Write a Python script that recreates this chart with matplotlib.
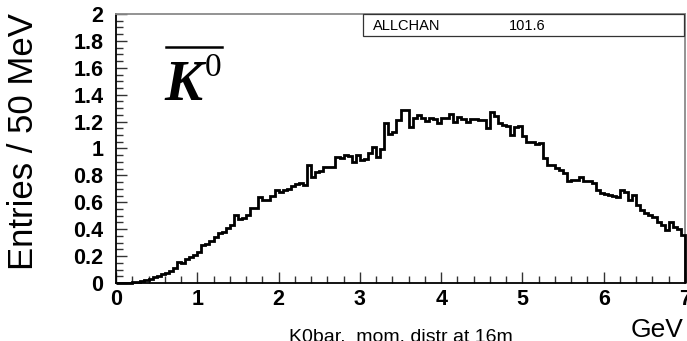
import numpy as np
import matplotlib
matplotlib.use('Agg')
from matplotlib import pyplot as plt
from matplotlib.ticker import MultipleLocator
from matplotlib.patches import Rectangle
from matplotlib.lines import Line2D

plt.rcParams['font.family'] = ['Liberation Sans', 'DejaVu Sans']

# K0bar momentum distribution at 16m, 50 MeV bins from 0 to 7 GeV
bin_width = 0.05
entries = [
    0.0, 0.0, 0.0, 0.002, 0.004, 0.007, 0.012, 0.02, 0.03, 0.042,
    0.05, 0.065, 0.075, 0.09, 0.11, 0.158, 0.146, 0.18, 0.19, 0.208,
    0.233, 0.28, 0.29, 0.31, 0.34, 0.37, 0.38, 0.41, 0.43, 0.505,
    0.475, 0.48, 0.505, 0.555, 0.56, 0.64, 0.615, 0.62, 0.645, 0.695,
    0.68, 0.69, 0.70, 0.72, 0.735, 0.74, 0.73, 0.875, 0.79, 0.825,
    0.83, 0.86, 0.86, 0.86, 0.935, 0.93, 0.95, 0.945, 0.90, 0.95,
    0.915, 0.92, 0.965, 1.01, 0.94, 1.0, 1.19, 1.105, 1.125, 1.21,
    1.285, 1.285, 1.16, 1.225, 1.25, 1.225, 1.205, 1.225, 1.22, 1.19,
    1.23, 1.23, 1.26, 1.20, 1.235, 1.22, 1.20, 1.22, 1.22, 1.215,
    1.215, 1.15, 1.275, 1.245, 1.19, 1.175, 1.17, 1.10, 1.16, 1.165,
    1.09, 1.05, 1.045, 1.035, 1.04, 0.93, 0.88, 0.88, 0.855, 0.84,
    0.815, 0.755, 0.765, 0.765, 0.79, 0.76, 0.755, 0.745, 0.69, 0.67,
    0.665, 0.655, 0.65, 0.64, 0.69, 0.68, 0.615, 0.655, 0.58, 0.54,
    0.52, 0.505, 0.49, 0.455, 0.43, 0.395, 0.455, 0.42, 0.405, 0.355,
]
edges = np.arange(len(entries) + 1) * bin_width
stat_name = "ALLCHAN"
stat_value = "101.6"

W, H = 687, 341
fig = plt.figure(figsize=(W / 100, H / 100), dpi=100)
ax = fig.add_axes([116 / W, 58 / H, (685 - 116) / W, (283 - 14) / H])

ax.stairs(entries, edges, color='black', linewidth=2.0, baseline=0, zorder=3, clip_on=False)
ax.set_xlim(0, 7)
ax.set_ylim(0, 2)

ax.xaxis.set_major_locator(MultipleLocator(1))
ax.xaxis.set_minor_locator(MultipleLocator(0.2))
ax.yaxis.set_major_locator(MultipleLocator(0.2))
ax.yaxis.set_minor_locator(MultipleLocator(0.05))
ax.yaxis.set_major_formatter(plt.FuncFormatter(lambda v, p: '%g' % round(v, 2)))

ax.tick_params(which='both', direction='in', top=False, right=False, width=1.0, color='#333333')
ax.tick_params(which='major', length=8)
ax.tick_params(which='minor', length=5)
ax.tick_params(axis='y', which='major', pad=9, labelsize=15.5)
ax.tick_params(axis='x', which='major', pad=4, labelsize=15.5)
for lab in ax.get_xticklabels() + ax.get_yticklabels():
    lab.set_fontweight('bold')

for s in ['left', 'bottom']:
    ax.spines[s].set_color('black')
    ax.spines[s].set_linewidth(1.3)
for s in ['top', 'right']:
    ax.spines[s].set_color('#8a8a8a')
    ax.spines[s].set_linewidth(1.3)

# stat box
box = Rectangle((363 / W, 1 - 36 / H), (684 - 363) / W, 22 / H, transform=fig.transFigure,
                fill=False, edgecolor='#333333', linewidth=0.9)
fig.add_artist(box)
fig.text(373 / W, 1 - 25.5 / H, stat_name, fontsize=10.5, va='center', ha='left')
fig.text(527 / W, 1 - 25.5 / H, stat_value, fontsize=10.5, va='center', ha='center')

# K0bar label
fig.text(164 / W, 1 - 100 / H, 'K', family='Liberation Serif', fontstyle='italic',
         fontweight='bold', fontsize=41, ha='left', va='baseline')
fig.text(205 / W, 1 - 76 / H, '0', family='Liberation Serif', fontsize=24,
         ha='left', va='baseline')
fig.add_artist(Line2D([166 / W, 222 / W], [1 - 47 / H, 1 - 47 / H], transform=fig.transFigure,
                      color='black', linewidth=1.8))

fig.text(24 / W, 1 - 142 / H, 'Entries / 50 MeV', rotation=90, fontsize=25,
         ha='center', va='center')
fig.text(684 / W, 1 - 337 / H, 'GeV', fontsize=19, ha='right', va='baseline')
fig.text(401 / W, 1 - 342 / H, 'K0bar,  mom. distr at 16m', fontsize=14,
         ha='center', va='baseline')

fig.savefig('out.png', dpi=100)
